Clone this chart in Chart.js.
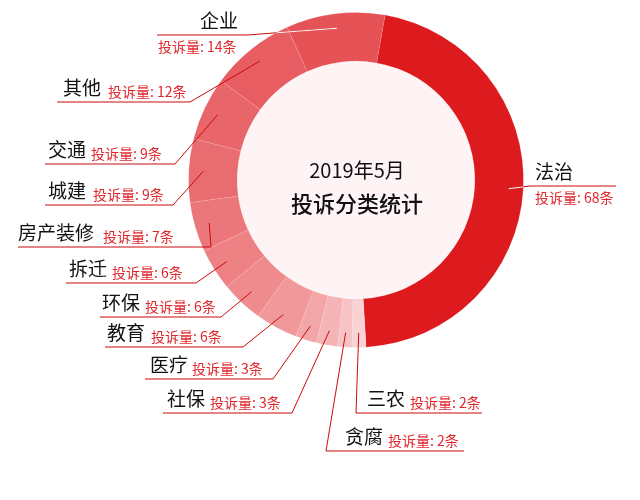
<!DOCTYPE html>
<html>
<head>
<meta charset="utf-8">
<script src="https://cdn.jsdelivr.net/npm/chart.js@4"></script>
<style>
  html, body { margin: 0; padding: 0; background: #fff; }
  #wrap { width: 640px; height: 500px; }
</style>
</head>
<body>
<div id="wrap"><canvas id="complaintChart"></canvas></div>
<script>
// data, clockwise from the top
const categories = ['法治', '三农', '贪腐', '社保', '医疗', '教育', '环保', '拆迁', '房产装修', '城建', '交通', '其他', '企业'];
const counts = [68, 2, 2, 3, 3, 6, 6, 6, 7, 9, 9, 12, 14];
const sliceColors = ['#dd1a1e', '#f9d2d3', '#f7c3c4', '#f5b4b6', '#f3a6a8', '#f1989a', '#ef8b8d', '#ed8184', '#eb777a', '#e96d70', '#e86569', '#e75d61', '#e65357'];
const centerLines = ['2019年5月', '投诉分类统计'];

// where each label sits (x0..x1 = underline, y = underline height)
const labelLayout = [
  { nameX: 535, valueX: 535, x0: 530, x1: 616, y: 186, elbow: 'left', below: true, inner: '#fff' },
  { nameX: 367, valueX: 410, x0: 356, x1: 482, y: 413, elbow: 'left' },
  { nameX: 345, valueX: 388, x0: 326, x1: 464, y: 451, elbow: 'left' },
  { nameX: 167, valueX: 210, x0: 163, x1: 292, y: 413, elbow: 'right' },
  { nameX: 150, valueX: 192, x0: 145, x1: 273, y: 379, elbow: 'right' },
  { nameX: 107, valueX: 151, x0: 105, x1: 243, y: 347, elbow: 'right' },
  { nameX: 102, valueX: 145, x0: 100, x1: 221, y: 317, elbow: 'right' },
  { nameX: 69, valueX: 112, x0: 66, x1: 196, y: 283, elbow: 'right' },
  { nameX: 18, valueX: 103, x0: 18, x1: 211, y: 247, elbow: 'right' },
  { nameX: 48, valueX: 93, x0: 45, x1: 173, y: 205, elbow: 'right' },
  { nameX: 48, valueX: 91, x0: 45, x1: 175, y: 164, elbow: 'right' },
  { nameX: 63, valueX: 108, x0: 57, x1: 190, y: 102, elbow: 'right' },
  { nameX: 200, valueX: 158, x0: 157, x1: 247, y: 35, elbow: 'right', below: true, inner: '#fff' }
];

const FONT = '"Noto Sans CJK SC", "Noto Sans", sans-serif';

const labelPlugin = {
  id: 'sliceLabels',
  beforeDatasetsDraw(chart) {
    const ctx = chart.ctx;
    const arc = chart.getDatasetMeta(0).data[0];
    ctx.save();
    ctx.fillStyle = '#fff4f5';
    ctx.beginPath();
    ctx.arc(arc.x, arc.y, arc.innerRadius, 0, Math.PI * 2);
    ctx.fill();
    ctx.restore();
  },
  afterDatasetsDraw(chart) {
    const ctx = chart.ctx;
    const arcs = chart.getDatasetMeta(0).data;
    ctx.save();
    arcs.forEach((arc, i) => {
      const L = labelLayout[i];
      const mid = (arc.startAngle + arc.endAngle) / 2;
      const r = arc.innerRadius + 0.7 * (arc.outerRadius - arc.innerRadius);
      const sx = arc.x + Math.cos(mid) * r;
      const sy = arc.y + Math.sin(mid) * r;
      const ex = L.elbow === 'left' ? L.x0 : L.x1;
      const fx = L.elbow === 'left' ? L.x1 : L.x0;

      const path = () => {
        ctx.beginPath();
        ctx.moveTo(sx, sy);
        ctx.lineTo(ex, L.y);
        ctx.lineTo(fx, L.y);
      };
      ctx.lineWidth = 1;
      ctx.strokeStyle = '#cc0a0a';
      path();
      ctx.stroke();
      if (L.inner) {
        ctx.save();
        ctx.beginPath();
        ctx.arc(arc.x, arc.y, arc.outerRadius, 0, Math.PI * 2);
        ctx.clip();
        ctx.strokeStyle = L.inner;
        path();
        ctx.stroke();
        ctx.restore();
      }

      ctx.textAlign = 'left';
      ctx.textBaseline = 'middle';
      ctx.fillStyle = '#111';
      ctx.font = '19px ' + FONT;
      ctx.fillText(categories[i], L.nameX, L.y - 14);
      ctx.fillStyle = '#e0262b';
      ctx.font = '14px ' + FONT;
      ctx.fillText('投诉量: ' + counts[i] + '条', L.valueX, L.below ? L.y + 11.5 : L.y - 10);
    });

    const a = arcs[0];
    ctx.textAlign = 'center';
    ctx.fillStyle = '#111';
    ctx.font = '20px ' + FONT;
    ctx.fillText(centerLines[0], a.x + 1, a.y - 10);
    ctx.font = '500 22px ' + FONT;
    ctx.fillText(centerLines[1], a.x + 1, a.y + 24);
    ctx.restore();
  }
};

new Chart(document.getElementById('complaintChart'), {
  type: 'doughnut',
  data: {
    labels: categories,
    datasets: [{
      data: counts,
      backgroundColor: sliceColors,
      borderColor: 'rgba(255,255,255,0.1)',
      borderWidth: 1
    }]
  },
  options: {
    responsive: true,
    maintainAspectRatio: false,
    animation: false,
    rotation: 10,
    cutout: '71%',
    layout: { padding: { left: 188, right: 116, top: 12, bottom: 152 } },
    plugins: {
      legend: { display: false },
      tooltip: { enabled: false }
    }
  },
  plugins: [labelPlugin]
});
</script>
</body>
</html>
